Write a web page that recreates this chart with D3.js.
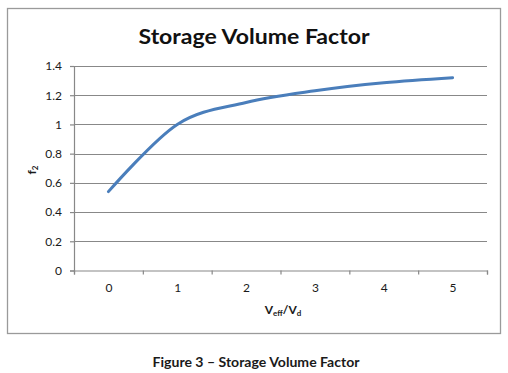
<!DOCTYPE html>
<html><head><meta charset="utf-8">
<script src="https://cdn.jsdelivr.net/npm/d3@7"></script>
<style>
html,body{margin:0;padding:0;background:#fff;}
svg{display:block;font-family:Lato,"Open Sans",sans-serif;}
</style></head>
<body>
<svg id="c" width="508" height="373"></svg>
<script>
// ---- data ----
const xValues = [0, 1, 2, 3, 4, 5];
const f2Values = [0.54, 1.0, 1.15, 1.23, 1.285, 1.32];
const yTickValues = [0, 0.2, 0.4, 0.6, 0.8, 1, 1.2, 1.4];
const yTickLabels = ["0", "0.2", "0.4", "0.6", "0.8", "1", "1.2", "1.4"];
const xTickLabels = ["0", "1", "2", "3", "4", "5"];
const xBoundaries = [-0.5, 0.5, 1.5, 2.5, 3.5, 4.5, 5.5];
const chartTitle = "Storage Volume Factor";
const caption = "Figure 3 \u2013 Storage Volume Factor";

const svg = d3.select("#c");
const gridColor = "#888888";

// outer chart border
svg.append("rect").attr("x", 7.5).attr("y", 8.5).attr("width", 493).attr("height", 325)
  .attr("fill", "#fff").attr("stroke", "#9a9a9a").attr("stroke-width", 1.3);

const x = d3.scaleLinear().domain([-0.5, 5.5]).range([74, 487]);
const y = d3.scaleLinear().domain([0, 1.4]).range([270.5, 66]);

// gridlines
svg.append("g").selectAll("line").data(yTickValues.filter(v => v > 0)).join("line")
  .attr("x1", x(-0.5)).attr("x2", x(5.5))
  .attr("y1", d => Math.round(y(d)) + 0.5).attr("y2", d => Math.round(y(d)) + 0.5)
  .attr("stroke", gridColor).attr("stroke-width", 1.2);

// y axis
const yAxis = svg.append("g").attr("transform", `translate(${x(-0.5)},0)`)
  .call(d3.axisLeft(y).tickValues(yTickValues).tickSize(4).tickPadding(8)
    .tickFormat((d, i) => yTickLabels[i]));
yAxis.select(".domain").attr("stroke", gridColor).attr("stroke-width", 1.2);
yAxis.selectAll(".tick line").attr("stroke", gridColor).attr("stroke-width", 1.2);
yAxis.selectAll("text").attr("font-size", 12).attr("fill", "#1a1a1a").attr("font-family", "Lato");

// x axis (category boundaries ticks)
const xAxis = svg.append("g").attr("transform", `translate(0,${y(0)})`)
  .call(d3.axisBottom(x).tickValues(xBoundaries).tickSize(4).tickSizeOuter(4).tickFormat(""));
xAxis.select(".domain").attr("stroke", gridColor).attr("stroke-width", 1.2);
xAxis.selectAll(".tick line").attr("stroke", gridColor).attr("stroke-width", 1.2);

// x labels
const xLab = svg.append("g").attr("transform", `translate(0,${y(0)})`)
  .call(d3.axisBottom(x).tickValues(xValues).tickSize(0).tickPadding(13)
    .tickFormat((d, i) => xTickLabels[i]));
xLab.select(".domain").remove();
xLab.selectAll("text").attr("font-size", 12).attr("fill", "#1a1a1a").attr("font-family", "Lato");

// line
const line = d3.line().x((d, i) => x(xValues[i])).y(d => y(d)).curve(d3.curveCardinal.tension(0));
svg.append("path").datum(f2Values).attr("d", line)
  .attr("fill", "none").attr("stroke", "#4A7EBB").attr("stroke-width", 3).attr("stroke-linecap", "round");

// title
svg.append("text").attr("x", 254).attr("y", 43.5).attr("text-anchor", "middle")
  .attr("font-size", 21).attr("font-weight", "bold").attr("fill", "#111")
  .attr("textLength", 231).attr("lengthAdjust", "spacingAndGlyphs")
  .text(chartTitle);

// x axis title
const xt = svg.append("text").attr("x", 283).attr("y", 313.5).attr("text-anchor", "middle")
  .attr("font-size", 12).attr("font-weight", "bold").attr("fill", "#1a1a1a");
xt.append("tspan").text("V");
xt.append("tspan").attr("font-size", 8).attr("dy", 2).text("eff");
xt.append("tspan").attr("dy", -2).text("/V");
xt.append("tspan").attr("font-size", 8).attr("dy", 2).text("d");

// y axis title
const yt = svg.append("text").attr("transform", "translate(36,170) rotate(-90)")
  .attr("text-anchor", "middle").attr("font-size", 12).attr("font-weight", "bold").attr("fill", "#1a1a1a");
yt.append("tspan").text("f");
yt.append("tspan").attr("font-size", 8).attr("dy", 2).text("2");

// caption
svg.append("text").attr("x", 256).attr("y", 366.5).attr("text-anchor", "middle")
  .attr("font-size", 14).attr("font-weight", "bold").attr("fill", "#1a1a1a")
  .attr("textLength", 207).attr("lengthAdjust", "spacingAndGlyphs")
  .text(caption);
</script>
</body></html>
